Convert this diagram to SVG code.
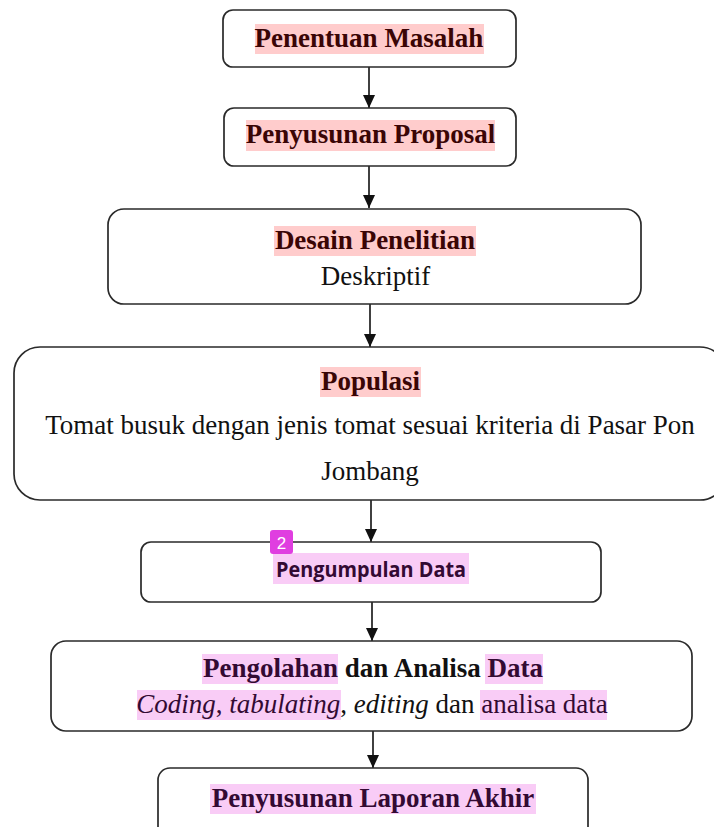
<svg xmlns="http://www.w3.org/2000/svg" width="714" height="827" viewBox="0 0 714 827">
<defs>
<marker id="ah" markerUnits="userSpaceOnUse" markerWidth="14" markerHeight="14" refX="13" refY="6" orient="auto">
<path d="M0,0 L13,6 L0,12 Z" fill="#111"/>
</marker>
<style>
.box{fill:#fff;stroke:#2a2a2a;stroke-width:1.7}
.con{stroke:#111;stroke-width:1.6;fill:none}
.t{font-family:"Liberation Serif","Times New Roman",serif;font-size:27px;fill:#111;text-anchor:middle}
.b{font-weight:bold}
.red{fill:#ffcccc}
.pur{fill:#f9ccf6}
.rt{fill:#3a0505}
.pt{fill:#330a33}
</style>
</defs>
<rect width="714" height="827" fill="#fff"/>
<g id="connectors">
<line class="con" x1="369" y1="67" x2="369" y2="108" marker-end="url(#ah)"/>
<line class="con" x1="369" y1="166" x2="369" y2="208" marker-end="url(#ah)"/>
<line class="con" x1="370" y1="304" x2="370" y2="347" marker-end="url(#ah)"/>
<line class="con" x1="371" y1="500" x2="371" y2="542" marker-end="url(#ah)"/>
<line class="con" x1="372" y1="602" x2="372" y2="641" marker-end="url(#ah)"/>
<line class="con" x1="373" y1="731" x2="373" y2="768" marker-end="url(#ah)"/>
</g>
<g id="n1">
<rect class="box" x="223" y="10" width="293" height="57" rx="10"/>
<rect class="red" x="255" y="24" width="229" height="30"/>
<text class="t b rt" x="369" y="47">Penentuan Masalah</text>
</g>
<g id="n2">
<rect class="box" x="224" y="108" width="292" height="58" rx="10"/>
<rect class="red" x="246" y="120" width="249" height="31"/>
<text class="t b rt" x="370.5" y="143">Penyusunan Proposal</text>
</g>
<g id="n3">
<rect class="box" x="108" y="209" width="533" height="95" rx="16"/>
<rect class="red" x="274" y="226" width="202" height="30"/>
<text class="t b rt" x="375" y="249">Desain Penelitian</text>
<text class="t" x="375.5" y="285">Deskriptif</text>
</g>
<g id="n4">
<rect class="box" x="14" y="347" width="712" height="153" rx="26"/>
<rect class="red" x="320" y="367" width="101" height="30"/>
<text class="t b rt" x="370.5" y="390">Populasi</text>
<text class="t" x="370" y="434">Tomat busuk dengan jenis tomat sesuai kriteria di Pasar Pon</text>
<text class="t" x="370" y="480">Jombang</text>
</g>
<g id="n5">
<rect class="box" x="141" y="542" width="460" height="60" rx="10"/>
<rect class="pur" x="273" y="553" width="196" height="31"/>
<text x="371" y="577" font-family="'Open Sans','Noto Sans',sans-serif" font-weight="bold" font-size="21" fill="#330a33" text-anchor="middle" textLength="190" lengthAdjust="spacingAndGlyphs">Pengumpulan Data</text>
<rect x="270" y="530" width="23" height="24" rx="3" fill="#e03ee0"/>
<text x="281.5" y="548.5" font-family="'Liberation Sans',Arial,sans-serif" font-size="17" fill="#fff" text-anchor="middle">2</text>
</g>
<g id="n6">
<rect class="box" x="51" y="641" width="641" height="90" rx="15"/>
<rect class="pur" x="202" y="654" width="136" height="30"/>
<rect class="pur" x="485" y="654" width="58" height="30"/>
<text class="t b" x="373" y="677"><tspan class="pt">Pengolahan</tspan> dan Analisa <tspan class="pt">Data</tspan></text>
<rect class="pur" x="137" y="690" width="204" height="30"/>
<rect class="pur" x="480" y="690" width="127" height="30"/>
<text class="t" x="372" y="713"><tspan class="pt" font-style="italic">Coding</tspan><tspan class="pt">, </tspan><tspan class="pt" font-style="italic">tabulating</tspan>, <tspan font-style="italic">editing</tspan> dan <tspan class="pt">analisa data</tspan></text>
</g>
<g id="n7">
<rect class="box" x="158" y="768" width="430" height="80" rx="12"/>
<rect class="pur" x="210" y="784" width="326" height="30"/>
<text class="t b pt" x="373" y="807">Penyusunan Laporan Akhir</text>
</g>
</svg>
